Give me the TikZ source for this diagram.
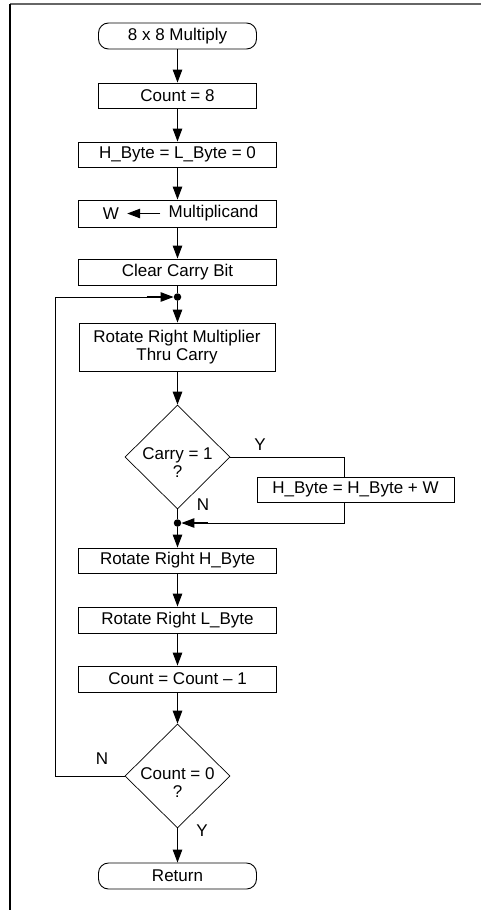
\documentclass[tikz,border=0pt]{standalone}
\usepackage{fontspec}
\setmainfont{Liberation Sans}
\usetikzlibrary{shapes.geometric,arrows.meta,calc}
\begin{document}
\begin{tikzpicture}[x=1pt,y=1pt,
  font=\fontsize{17}{18}\selectfont,
  proc/.style={draw,line width=0.9pt,minimum width=#1,minimum height=25,inner sep=0pt,align=center},
  term/.style={draw,line width=0.9pt,rounded corners=10pt,minimum width=158,minimum height=26,inner sep=0pt},
  decision/.style={diamond,draw,line width=0.7pt,minimum width=105,minimum height=104,inner sep=0pt},
  dotn/.style={circle,fill,inner sep=0pt,minimum size=7.5},
  lbl/.style={inner sep=0pt},
  flow/.style={-{Triangle[length=13pt,width=9.5pt]},line width=1.1pt},
  plain/.style={line width=0.9pt}
]
\useasboundingbox (0,0) rectangle (481,-910);
% frame
\draw[line width=1.8pt,black!60] (10,-4) -- (481,-4);
\draw[line width=1.3pt] (10,-4) -- (10,-910);

\node[term] (start) at (177.5,-36) {8 x 8 Multiply};
\node[proc=158] (c8) at (177.5,-95.5) {Count = 8};
\node[proc=198] (hl) at (177.5,-154.5) {H\_Byte = L\_Byte = 0};
\node[proc=198,minimum height=27] (wb) at (177.5,-213.5) {};
\node[inner sep=8pt] (wW) at (111,-213.5) {W};
\node[inner sep=8pt] (wM) at (213.5,-213.5) {Multiplicand};
\node[proc=198,minimum height=26] (clr) at (177.5,-272) {Clear Carry Bit};
\node[dotn] (dot1) at (177.5,-297) {};
\node[proc=196,minimum height=48] (rot) at (177,-347) {Rotate Right Multiplier\\Thru Carry};
\node[decision] (d1) at (177.5,-457) {};
\node[align=center,inner sep=0pt] (d1t) at (177.5,-463) {Carry = 1\\?};
\node[proc=197] (add) at (355.5,-489.5) {H\_Byte = H\_Byte + W};
\node[dotn] (dot2) at (177.5,-523) {};
\node[proc=198] (rh) at (177.5,-560.5) {Rotate Right H\_Byte};
\node[proc=198,minimum height=26] (rl) at (177.5,-620) {Rotate Right L\_Byte};
\node[proc=198,minimum height=26] (cnt) at (177.5,-679) {Count = Count -- 1};
\node[decision] (d2) at (177.5,-776) {};
\node[align=center,inner sep=0pt] (d2t) at (177.5,-783) {Count = 0\\?};
\node[term] (ret) at (177.5,-876) {Return};

\node[lbl] (ly1) at (260,-445) {Y};
\node[lbl] (ln1) at (203,-505) {N};
\node[lbl] (ln2) at (102,-759) {N};
\node[lbl] (ly2) at (202,-831) {Y};

\coordinate (bx) at (344,0);
\coordinate (lp) at (55,-776);

\draw[flow] (start) -- (c8);
\draw[flow] (c8) -- (hl);
\draw[flow] (hl) -- (wb);
\draw[flow] (wM.west) -- (wW.east);
\draw[flow] (wb) -- (clr);
\draw[plain] (clr.south) -- (dot1);
\draw[flow] (dot1) -- (rot.north -| dot1);
\draw[flow] (rot.south -| d1) -- (d1.north);
\draw[plain] (d1.east) -| (bx |- add.north);
\draw[plain] (bx |- add.south) |- ($(dot2)+(5,0)$);
\draw[flow] ($(dot2)+(30,0)$) -- (dot2.east);
\draw[plain] (d1.south) -- (dot2);
\draw[flow] (dot2) -- (rh);
\draw[flow] (rh) -- (rl);
\draw[flow] (rl) -- (cnt);
\draw[flow] (cnt) -- (d2.north);
\draw[plain] (d2.west) -- (lp) |- ($(dot1)+(-30,0)$);
\draw[flow] ($(dot1)+(-31,0)$) -- (dot1.west);
\draw[flow] (d2.south) -- (ret);
\end{tikzpicture}
\end{document}
